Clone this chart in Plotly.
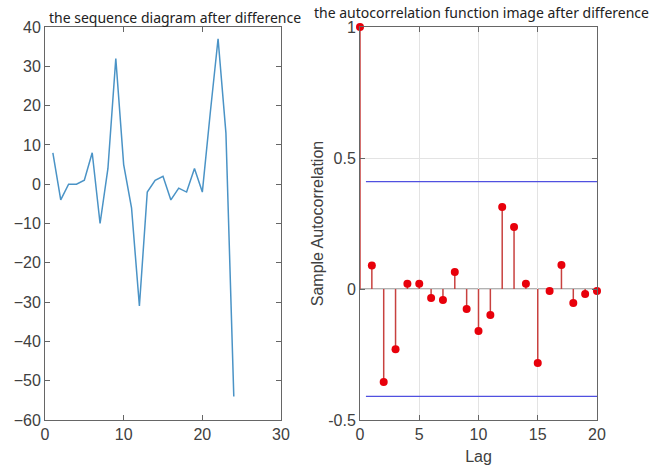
import plotly.graph_objects as go

# ---- data ----
t = list(range(1, 25))
diff_values = [8, -4, 0, 0, 1, 8, -10, 4, 32, 5, -6, -31, -2, 1, 2, -4, -1, -2, 4, -2, 18, 37, 13, -54]

lags = list(range(0, 21))
acf_values = [1.0, 0.09, -0.355, -0.23, 0.02, 0.02, -0.034, -0.042, 0.065, -0.076, -0.16,
              -0.099, 0.313, 0.237, 0.02, -0.282, -0.008, 0.092, -0.053, -0.019, -0.008]
bound = 0.41
bound_x = [0.5, 20]

left_title = "the sequence diagram after difference"
right_title = "the autocorrelation function image after difference"

# ---- figure ----
fig = go.Figure()

fig.add_trace(go.Scatter(x=t, y=diff_values, mode="lines",
                         line=dict(color="#4a93c6", width=1.5),
                         xaxis="x", yaxis="y", showlegend=False))

stem_x, stem_y = [], []
for lg, v in zip(lags, acf_values):
    stem_x += [lg, lg, None]
    stem_y += [0, v, None]
fig.add_trace(go.Scatter(x=stem_x, y=stem_y, mode="lines",
                         line=dict(color="#c8413f", width=1.5),
                         xaxis="x2", yaxis="y2", showlegend=False))
fig.add_trace(go.Scatter(x=lags, y=acf_values, mode="markers",
                         marker=dict(color="#e8000b", size=8),
                         xaxis="x2", yaxis="y2", showlegend=False, cliponaxis=False))
for b in (bound, -bound):
    fig.add_trace(go.Scatter(x=bound_x, y=[b, b], mode="lines",
                             line=dict(color="#5050e0", width=1.2),
                             xaxis="x2", yaxis="y2", showlegend=False))

axis_font = dict(family="Liberation Sans, Arial, sans-serif", size=16, color="#404040")
common = dict(showline=True, linecolor="#666666", linewidth=1, mirror="ticks",
              ticks="inside", ticklen=5, tickcolor="#666666", tickfont=axis_font,
              zeroline=False, automargin=False)

fig.update_layout(
    width=652, height=470,
    margin=dict(l=0, r=0, t=0, b=0),
    paper_bgcolor="white", plot_bgcolor="white",
    xaxis=dict(domain=[45/652, 281/652], range=[0, 30], tickvals=[0, 10, 20, 30],
               showgrid=False, anchor="y", **common),
    yaxis=dict(domain=[50/470, 443/470], range=[-60, 40], dtick=10,
               showgrid=False, anchor="x", **common),
    xaxis2=dict(domain=[360/652, 597/652], range=[0, 20], tickvals=[0, 5, 10, 15, 20],
                showgrid=True, gridcolor="#e3e3e3", gridwidth=1, anchor="y2",
                title=dict(text="Lag", font=axis_font, standoff=8), **common),
    yaxis2=dict(domain=[50/470, 443/470], range=[-0.5, 1], tickvals=[-0.5, 0, 0.5, 1],
                ticktext=["-0.5", "0", "0.5", "1"],
                showgrid=True, gridcolor="#e3e3e3", gridwidth=1, anchor="x2",
                title=dict(text="Sample Autocorrelation", font=axis_font, standoff=0),
                **common),
    shapes=[dict(type="line", xref="x2", yref="y2", x0=0, x1=20, y0=0, y1=0,
                 line=dict(color="#666666", width=1.2), layer="below")],
    annotations=[
        dict(text=left_title, x=175/652, y=1 - 17/470, xref="paper", yref="paper",
             showarrow=False, xanchor="center", yanchor="middle",
             font=dict(family="Noto Sans, sans-serif", size=14, color="#222222")),
        dict(text=right_title, x=482/652, y=1 - 12/470, xref="paper", yref="paper",
             showarrow=False, xanchor="center", yanchor="middle",
             font=dict(family="Noto Sans, sans-serif", size=14, color="#222222")),
    ],
)

fig.write_html("out.html")
